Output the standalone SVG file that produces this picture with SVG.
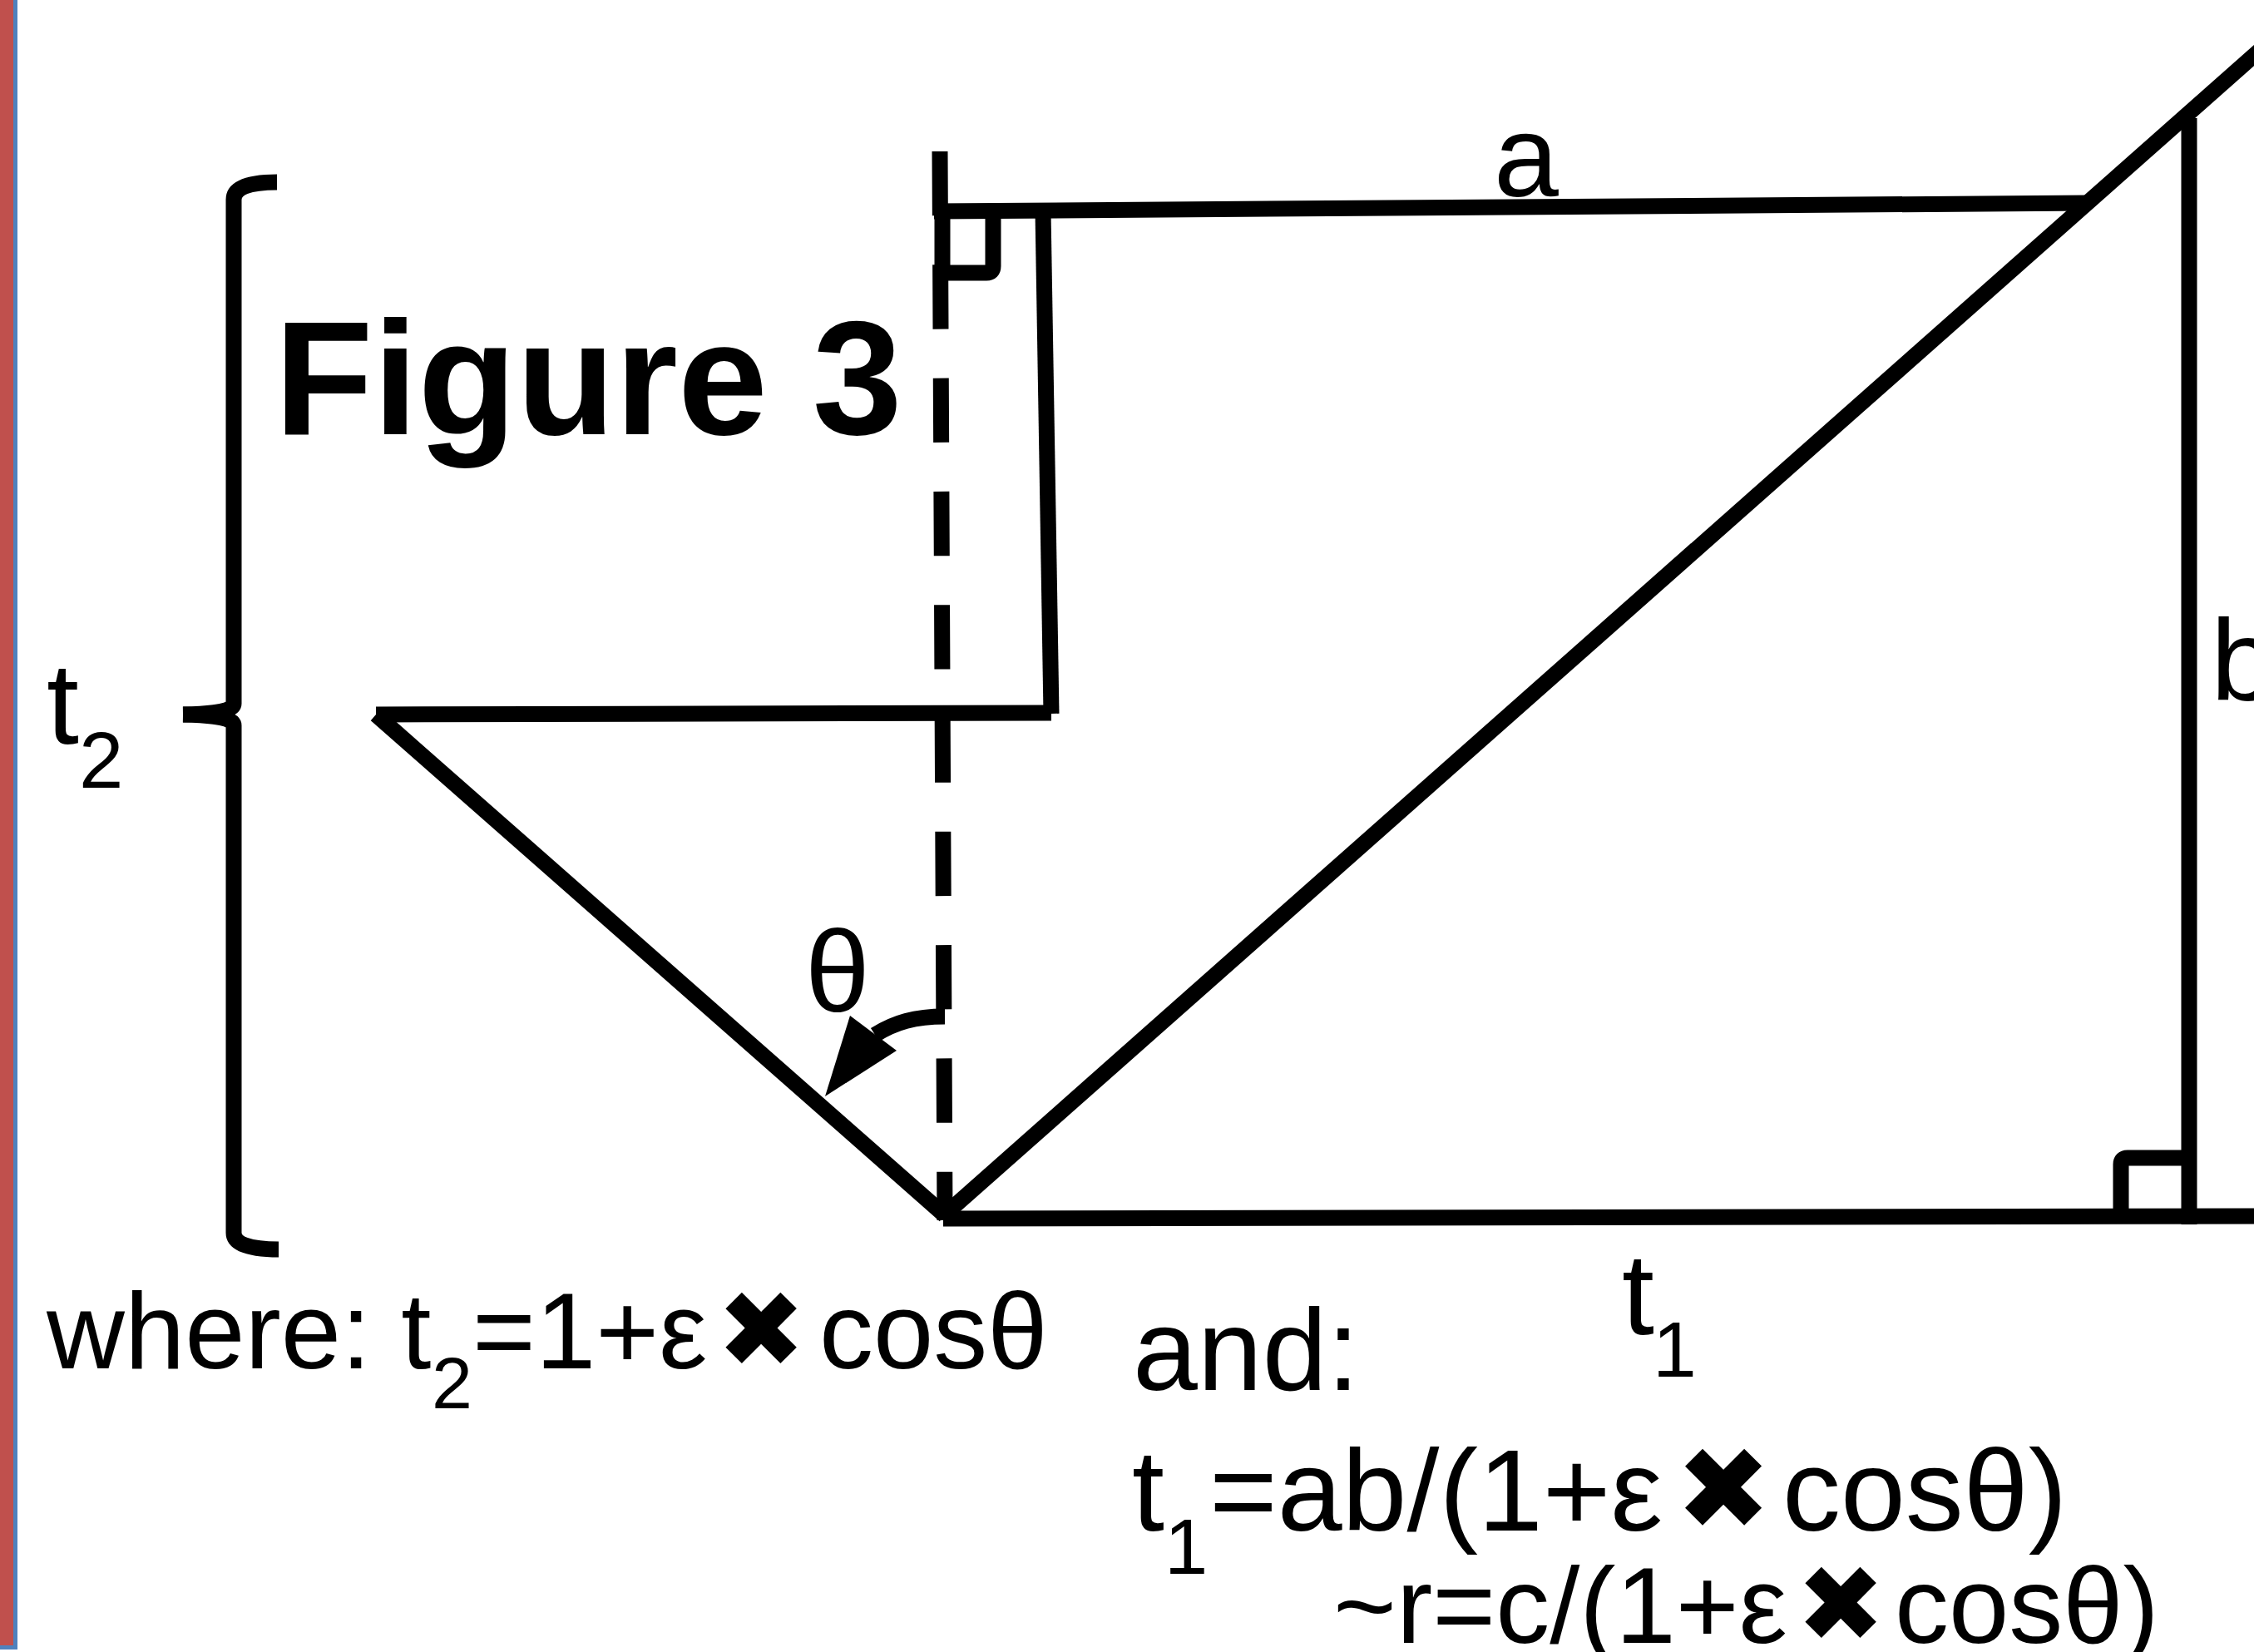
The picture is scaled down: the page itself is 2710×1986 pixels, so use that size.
<svg xmlns="http://www.w3.org/2000/svg" width="2710" height="1986" viewBox="0 0 2710 1986">
<style>
.ln{fill:none;stroke:#000;stroke-width:19;stroke-linecap:butt;stroke-linejoin:miter}
.dash{fill:none;stroke:#000;stroke-width:19;stroke-dasharray:77.3 59}
.t{font-family:"Liberation Sans",Arial,sans-serif;fill:#000}
.x{font-family:"DejaVu Sans","Liberation Sans",sans-serif;fill:#000;text-anchor:middle}
</style>
<rect id="sidebar" x="-10" y="-10" width="28.5" height="1990.5" fill="#c0504d" stroke="#4f81bd" stroke-width="5"/>
<g id="connectors">
  <line class="dash" x1="1130" y1="182" x2="1136" y2="1467"/>
  <line class="ln" x1="1123" y1="254" x2="2512" y2="244"/>
  <line class="ln" x1="1254" y1="254" x2="1264" y2="858"/>
  <line class="ln" x1="452" y1="859" x2="1264" y2="857"/>
  <line class="ln" x1="452" y1="859" x2="1136" y2="1461"/>
  <line class="ln" x1="1134" y1="1465" x2="2710" y2="1462"/>
  <line class="ln" x1="1136" y1="1460" x2="2722" y2="56"/>
  <line class="ln" x1="2632" y1="142" x2="2632" y2="1472"/>
  <path class="ln" d="M1133,254 L1133,328 L1186,328 Q1194,328 1194,320 L1194,254"/>
  <path class="ln" d="M2550,1464 L2550,1400 Q2550,1392 2558,1392 L2632,1392"/>
  <path class="ln" d="M1136,1222 C1100,1222 1076,1229 1052,1244" stroke-width="18"/>
  <polygon points="992,1318 1022,1221 1078,1263" fill="#000"/>
</g>
<g id="bracket">
  <path class="ln" d="M333,219 Q281,219 281,240 L281,846 Q281,858 220,859"/>
  <path class="ln" d="M220,859 Q281,860 281,872 L281,1482 Q281,1502 335,1502"/>
</g>
<g id="title"><text class="t" x="330" y="522" font-size="194" font-weight="bold">Figure 3</text></g>
<g id="label-t2"><text class="t" x="56" y="894" font-size="140">t<tspan x="95" y="947" font-size="96">2</tspan></text></g>
<g id="label-a"><text class="t" x="1796" y="236" font-size="140">a</text></g>
<g id="label-b"><text class="t" x="2658" y="842" font-size="140">b</text></g>
<g id="label-theta"><text class="t" x="968" y="1216" font-size="140">θ</text></g>
<g id="label-t1"><text class="t" x="1950" y="1604" font-size="140">t<tspan x="1987" y="1655" font-size="95">1</tspan></text></g>
<g id="formula-where">
  <text class="t" y="1645" font-size="130"><tspan x="56">where: t</tspan><tspan x="519" y="1693" font-size="88">2</tspan><tspan x="568" y="1645">=1+ε</tspan><tspan x="985">cosθ</tspan></text>
  <text class="x" x="915" y="1643" font-size="128">✖</text>
</g>
<g id="formula-and">
  <text class="t" x="1362" y="1671" font-size="140">and:</text>
  <text class="t" y="1840" font-size="140"><tspan x="1361">t</tspan><tspan x="1400" y="1892" font-size="94">1</tspan><tspan x="1454" y="1840">=ab/(1+ε</tspan><tspan x="2143">cosθ)</tspan></text>
  <text class="x" x="2072" y="1838" font-size="138">✖</text>
  <text class="t" y="1975" font-size="130"><tspan x="1603">~r=c/(1+ε</tspan><tspan x="2278">cosθ)</tspan></text>
  <text class="x" x="2213" y="1973" font-size="128">✖</text>
</g>
</svg>
